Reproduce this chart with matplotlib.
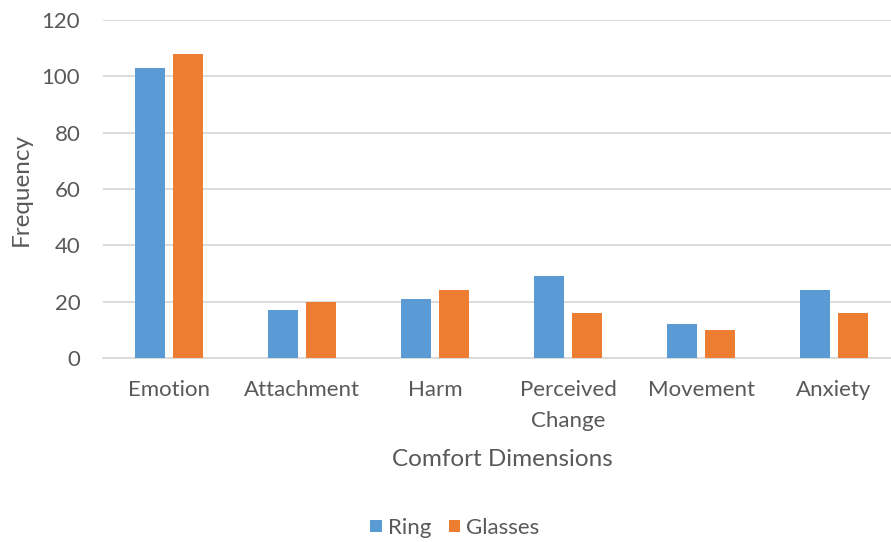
import matplotlib
matplotlib.use("Agg")
import matplotlib.pyplot as plt
import numpy as np

categories = ["Emotion", "Attachment", "Harm", "Perceived\nChange", "Movement", "Anxiety"]
ring = [103, 17, 21, 29, 12, 24]
glasses = [108, 20, 24, 16, 10, 16]
y_ticks = [0, 20, 40, 60, 80, 100, 120]

plt.rcParams["font.family"] = ["Lato", "DejaVu Sans"]
text_color = "#595959"
grid_color = "#D9D9D9"

W, H = 891, 542
fig = plt.figure(figsize=(W / 100, H / 100), dpi=100)
left, right, top, bottom = 102.5, 900.5, 20, 358
ax = fig.add_axes([left / W, (H - bottom) / H, (right - left) / W, (bottom - top) / H])

x = np.arange(len(categories))
bw = 0.226
off = 0.143
ax.bar(x - off, ring, bw, color="#5B9BD5", label="Ring", zorder=3)
ax.bar(x + off, glasses, bw, color="#ED7D31", label="Glasses", zorder=3)

ax.set_xlim(-0.5, len(categories) - 0.5)
ax.set_ylim(0, 120)
ax.set_yticks(y_ticks)
ax.set_xticks(x)
ax.set_xticklabels(categories, linespacing=1.65)
ax.tick_params(axis="both", length=0, colors=text_color, labelsize=16)
ax.tick_params(axis="x", pad=16)
ax.tick_params(axis="y", pad=16)
ax.yaxis.grid(True, color=grid_color, linewidth=1.3, zorder=0)
ax.set_axisbelow(True)
for s in ["top", "right", "left"]:
    ax.spines[s].set_visible(False)
ax.spines["bottom"].set_color(grid_color)
ax.spines["bottom"].set_linewidth(1.3)

fig.text(502 / W, 1 - 460 / H, "Comfort Dimensions", ha="center", va="center",
         fontsize=17.5, color=text_color)
fig.text(21 / W, 1 - 190 / H, "Frequency", ha="center", va="center",
         rotation=90, fontsize=17.5, color=text_color)

fig.legend(loc="center", bbox_to_anchor=(455 / W, 1 - 528 / H), ncol=2,
           frameon=False, fontsize=16, labelcolor=text_color,
           handlelength=0.5, handleheight=0.5, handletextpad=0.28,
           columnspacing=0.8)

fig.savefig("out.png", dpi=100)
